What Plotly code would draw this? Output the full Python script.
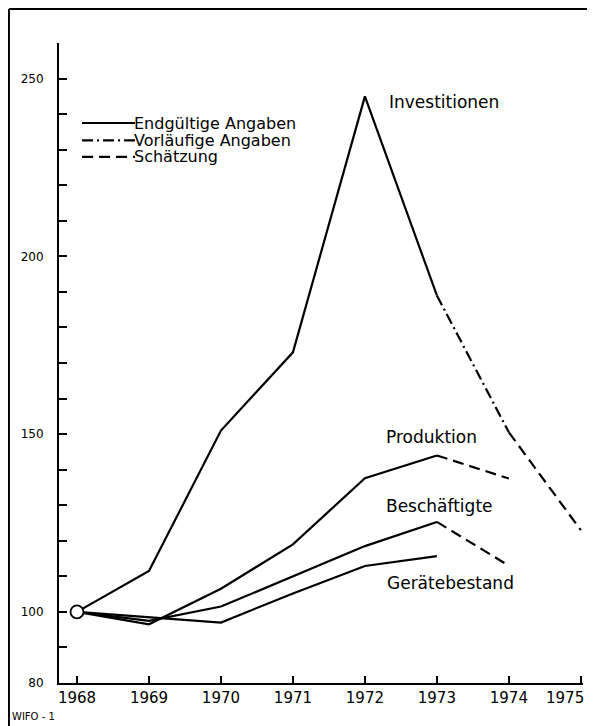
import plotly.graph_objects as go

years = [1968, 1969, 1970, 1971, 1972, 1973, 1974, 1975]
year_labels = ["1968", "1969", "1970", "1971", "1972", "1973", "1974", "1975"]

# Index values (1968 = 100)
investitionen = [100, 111.5, 151, 173, 245, 189, 150.5, 123]
produktion = [100, 96.5, 106.5, 119, 137.6, 144, 137.5]
beschaeftigte = [100, 97.5, 101.5, 110, 118.5, 125.3, 113]
geraetebestand = [100, 98.5, 97, 105.2, 112.9, 115.7]

# index of last year with final data, last with preliminary data
series = [
    ("Investitionen", investitionen, 5, 6),
    ("Produktion", produktion, 5, 5),
    ("Beschäftigte", beschaeftigte, 5, 5),
    ("Gerätebestand", geraetebestand, 5, 5),
]

label_pos = {
    "Investitionen": (1972.31, 243.4),
    "Produktion": (1972.27, 149.2),
    "Beschäftigte": (1972.27, 129.8),
    "Gerätebestand": (1972.28, 108.2),
}

legend_names = ["Endgültige Angaben", "Vorläufige Angaben", "Schätzung"]

FONT = "DejaVu Sans"
SOLID = "solid"
DASHDOT = "11px,4px,2px,4px"
DASH = "11px,6px"
LW = 2.2

fig = go.Figure()

for name, vals, i_final, i_prelim in series:
    n = len(vals)
    fig.add_trace(go.Scatter(x=years[:i_final + 1], y=vals[:i_final + 1], mode="lines",
                             line=dict(color="black", width=LW, dash=SOLID), showlegend=False))
    if i_prelim > i_final:
        fig.add_trace(go.Scatter(x=years[i_final:i_prelim + 1], y=vals[i_final:i_prelim + 1], mode="lines",
                                 line=dict(color="black", width=LW, dash=DASHDOT), showlegend=False))
    if n - 1 > i_prelim:
        fig.add_trace(go.Scatter(x=years[i_prelim:n], y=vals[i_prelim:n], mode="lines",
                                 line=dict(color="black", width=LW, dash=DASH), showlegend=False))
    lx, ly = label_pos[name]
    fig.add_annotation(x=lx, y=ly, text=name, showarrow=False, xanchor="left", yanchor="middle",
                       font=dict(family=FONT, size=17, color="black"))

# base point circle
fig.add_trace(go.Scatter(x=[years[0]], y=[investitionen[0]], mode="markers",
                         marker=dict(symbol="circle", size=13, color="white",
                                     line=dict(color="black", width=1.8)),
                         showlegend=False))

# manual legend (line-style key)
leg_y = [0.875, 0.848, 0.822]
for nm, ds, yy in zip(legend_names, [SOLID, DASHDOT, DASH], leg_y):
    fig.add_shape(type="line", xref="paper", yref="paper", x0=0.044, x1=0.145, y0=yy, y1=yy,
                  line=dict(color="black", width=LW, dash=ds))
    fig.add_annotation(xref="paper", yref="paper", x=0.145, y=yy, text=nm, showarrow=False,
                       xanchor="left", yanchor="middle", xshift=-2, borderpad=0,
                       font=dict(family=FONT, size=16, color="black"))

ytickvals = list(range(80, 251, 10))
yticktext = [str(v) if v in (80, 100, 150, 200, 250) else "" for v in ytickvals]

# last year label would overflow the page edge: place it just left of its tick
xticktext = year_labels[:-1] + [""]

# page body has an 8px margin: figure is 587x718 placed at (8, 8)
fig.update_layout(
    width=587, height=718,
    margin=dict(l=51, r=12, t=35, b=43),
    paper_bgcolor="white", plot_bgcolor="white",
    font=dict(family=FONT, color="black"),
    showlegend=False,
    xaxis=dict(range=[1967.75, 1975.03], tickvals=years, ticktext=xticktext,
               ticks="inside", ticklen=7, tickwidth=1.5, tickcolor="black",
               showline=True, linecolor="black", linewidth=2, showgrid=False, zeroline=False,
               tickfont=dict(family=FONT, size=15, color="black")),
    yaxis=dict(range=[80, 260], tickvals=ytickvals, ticktext=yticktext,
               ticks="inside", ticklen=8, tickwidth=1.5, tickcolor="black",
               showline=True, linecolor="black", linewidth=2, showgrid=False, zeroline=False,
               ticklabelstandoff=11,
               tickfont=dict(family=FONT, size=12, color="black")),
)

fig.add_annotation(x=years[-1], xref="x", yref="paper", y=0, yanchor="top", xanchor="right",
                   yshift=-5, xshift=4, text=year_labels[-1], showarrow=False, borderpad=0,
                   font=dict(family=FONT, size=15, color="black"))

# page frame lines (top and left)
fig.add_shape(type="line", xref="paper", yref="paper", x0=-0.0955, x1=1.013, y0=1.053, y1=1.053,
              line=dict(color="black", width=2))
fig.add_shape(type="line", xref="paper", yref="paper", x0=-0.0955, x1=-0.0955, y0=1.053, y1=-0.07,
              line=dict(color="black", width=2))

fig.add_annotation(xref="paper", yref="paper", x=-0.093, y=-0.053, text="WIFO - 1", showarrow=False,
                   xanchor="left", yanchor="middle", font=dict(family=FONT, size=10, color="black"))

fig.write_html("out.html")
